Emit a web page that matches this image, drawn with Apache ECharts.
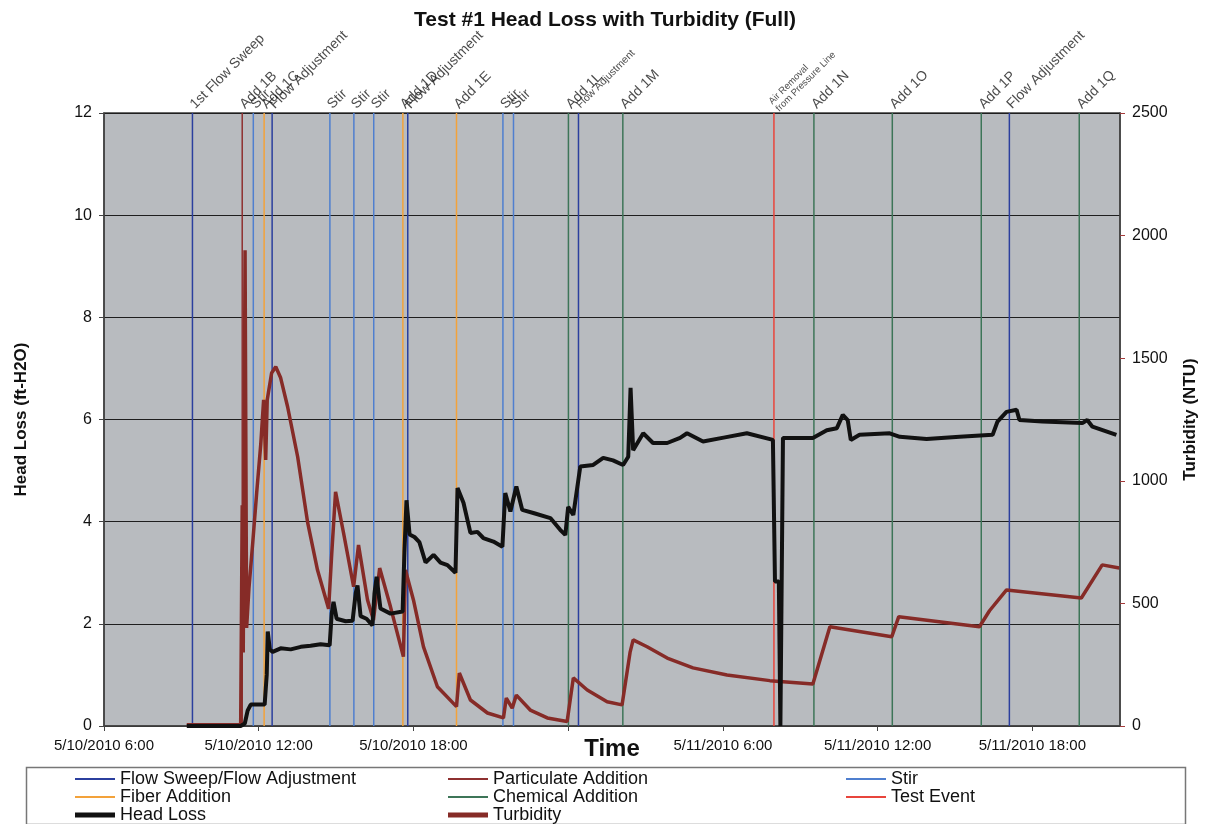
<!DOCTYPE html>
<html>
<head>
<meta charset="utf-8">
<script src="https://cdn.jsdelivr.net/npm/echarts@6/dist/echarts.min.js"></script>
<style>
html,body{margin:0;padding:0;background:#fff;}
#chart{width:1210px;height:824px;}
</style>
</head>
<body>
<div id="chart"></div>
<script>
// ---- Data (x values are hours since 5/10/2010 0:00) ----
const xTickLabels = ['5/10/2010 6:00', '5/10/2010 12:00', '5/10/2010 18:00', '', '5/11/2010 6:00', '5/11/2010 12:00', '5/11/2010 18:00'];

const eventHours = [9.43, 11.36, 11.79, 12.21, 12.52, 14.76, 15.69, 16.46, 17.59, 17.78, 19.67, 21.47, 21.88, 24.01, 24.40, 26.12, 31.98, 33.53, 36.57, 40.02, 41.11, 43.82];
const eventTypes = ['flow', 'particulate', 'stir', 'fiber', 'flow', 'stir', 'stir', 'stir', 'fiber', 'flow', 'fiber', 'stir', 'stir', 'chemical', 'flow', 'chemical', 'test', 'chemical', 'chemical', 'chemical', 'flow', 'chemical'];
const eventLabels = ['1st Flow Sweep', 'Add 1B', 'Stir', 'Add 1C', 'Flow Adjustment', 'Stir', 'Stir', 'Stir', 'Add 1D', 'Flow Adjustment', 'Add 1E', 'Stir', 'Stir', 'Add 1L', 'Flow Adjustment', 'Add 1M', 'Air Removal\nfrom Pressure Line', 'Add 1N', 'Add 1O', 'Add 1P', 'Flow Adjustment', 'Add 1Q'];

const headLoss = [
  [9.21,0],[11.30,0],[11.46,0.05],[11.57,0.3],[11.69,0.42],[12.23,0.42],[12.31,1.0],[12.35,1.85],[12.43,1.5],[12.54,1.45],
  [12.85,1.52],[13.24,1.5],[13.63,1.55],[14.01,1.57],[14.40,1.6],[14.75,1.58],[14.83,2.2],[14.90,2.43],[15.02,2.1],[15.37,2.05],
  [15.64,2.06],[15.76,2.6],[15.83,2.75],[15.95,2.15],[16.18,2.1],[16.41,1.97],[16.49,2.6],[16.57,2.92],[16.72,2.3],[17.11,2.2],
  [17.58,2.24],[17.65,3.4],[17.73,4.42],[17.85,3.75],[18.04,3.7],[18.23,3.6],[18.47,3.2],[18.78,3.35],[19.05,3.2],[19.32,3.15],
  [19.63,3.0],[19.71,4.66],[19.94,4.37],[20.21,3.78],[20.48,3.8],[20.71,3.68],[21.10,3.61],[21.45,3.51],[21.56,4.56],[21.76,4.2],
  [21.99,4.69],[22.22,4.23],[22.65,4.17],[23.31,4.07],[23.69,3.84],[23.89,3.74],[24.00,4.29],[24.20,4.13],[24.47,5.08],[24.97,5.11],
  [25.36,5.25],[25.74,5.2],[26.13,5.11],[26.33,5.27],[26.42,6.62],[26.52,5.4],[26.91,5.73],[27.29,5.54],[27.84,5.54],[28.34,5.64],
  [28.61,5.73],[29.23,5.57],[30.08,5.65],[30.93,5.73],[31.94,5.6],[32.02,2.83],[32.17,2.83],[32.23,0],[32.29,0],[32.33,5.64],
  [33.49,5.64],[34.03,5.79],[34.42,5.83],[34.65,6.09],[34.84,5.99],[34.96,5.6],[35.30,5.7],[36.47,5.73],[36.86,5.66],[37.90,5.62],
  [39.18,5.66],[40.46,5.7],[40.65,5.96],[41.00,6.15],[41.39,6.19],[41.50,5.99],[42.39,5.96],[43.94,5.93],[44.13,5.99],[44.33,5.86],
  [45.26,5.7]
];

const turbidity = [
  [9.21,5],[11.30,5],[11.36,900],[11.40,300],[11.47,1940],[11.53,400],[11.62,560],[11.77,750],[11.92,950],[12.08,1150],
  [12.19,1330],[12.27,1085],[12.33,1330],[12.50,1440],[12.66,1465],[12.85,1420],[13.12,1302],[13.51,1098],[13.90,828],[14.28,636],
  [14.71,478],[14.83,700],[14.98,955],[15.29,787],[15.68,568],[15.87,738],[16.22,514],[16.45,432],[16.69,644],[17.11,486],
  [17.61,283],[17.69,636],[18.00,514],[18.39,323],[18.93,160],[19.67,79],[19.78,216],[20.21,106],[20.87,53],[21.49,33],
  [21.60,114],[21.83,73],[21.99,126],[22.53,65],[23.19,33],[23.96,18],[24.20,196],[24.74,147],[25.51,99],[26.09,86],
  [26.40,300],[26.52,351],[27.06,323],[27.84,277],[28.84,237],[30.16,208],[31.82,185],[33.49,171],[34.15,405],[36.55,364],
  [36.82,446],[39.95,405],[40.34,470],[41.00,555],[43.90,522],[44.71,657],[45.37,644]
];

// ---- Styling / option building ----
const FONT = '"Liberation Sans", Arial, Helvetica, sans-serif';
const eventCats = [
  {key: 'flow', name: 'Flow Sweep/Flow Adjustment', color: '#2b3f9e'},
  {key: 'particulate', name: 'Particulate Addition', color: '#8e3030'},
  {key: 'stir', name: 'Stir', color: '#4f7fcf'},
  {key: 'fiber', name: 'Fiber Addition', color: '#f3a23a'},
  {key: 'chemical', name: 'Chemical Addition', color: '#3d7558'},
  {key: 'test', name: 'Test Event', color: '#e8453c'}
];

const eventSeries = eventCats.map(c => ({
  name: c.name,
  type: 'line',
  color: c.color,
  symbol: 'none',
  silent: true,
  z: 2,
  lineStyle: {width: 1.5, color: c.color},
  data: eventHours.flatMap((h, i) => eventTypes[i] === c.key ? [[h, 0], [h, 12], [h, '-']] : [])
}));

const smallFlow = 14; // index of the small "Flow Adjustment" label
const labelSeries = {
  name: 'eventLabels',
  type: 'scatter',
  symbolSize: 1,
  itemStyle: {color: 'transparent'},
  silent: true,
  clip: false,
  z: 10,
  data: eventHours.map((h, i) => {
    const item = {value: [h, 12]};
    if (i === smallFlow) item.label = {fontSize: 10.5};
    if (eventLabels[i].indexOf('\n') >= 0) item.label = {fontSize: 9.5, lineHeight: 10};
    return item;
  }),
  label: {
    show: true,
    position: 'top',
    distance: 6,
    rotate: 45,
    align: 'left',
    verticalAlign: 'middle',
    fontSize: 14,
    fontFamily: FONT,
    color: '#1a1a1a',
    formatter: p => eventLabels[p.dataIndex]
  }
};

const thin = 'path://M0,0L40,0L40,2L0,2Z';
const thick = 'path://M0,0L40,0L40,5L0,5Z';
const legendCommon = {
  orient: 'vertical',
  top: 770,
  itemWidth: 40,
  itemHeight: 10,
  itemGap: 0,
  padding: 0,
  selectedMode: false,
  symbolKeepAspect: true,
  textStyle: {fontSize: 18, lineHeight: 17, color: '#111', fontFamily: FONT}
};

const option = {
  backgroundColor: '#ffffff',
  animation: false,
  title: {
    text: 'Test #1 Head Loss with Turbidity (Full)',
    left: 'center',
    top: 5,
    textStyle: {fontSize: 21, fontWeight: 'bold', color: '#111', fontFamily: FONT}
  },
  grid: {
    left: 104, right: 90, top: 113, bottom: 98,
    show: true,
    backgroundColor: '#b8bbbf',
    borderColor: '#3a3a3a',
    borderWidth: 1.5
  },
  legend: [
    Object.assign({left: 75, data: [
      {name: 'Flow Sweep/Flow Adjustment', icon: thin},
      {name: 'Fiber Addition', icon: thin},
      {name: 'Head Loss', icon: thick}]}, legendCommon),
    Object.assign({left: 448, data: [
      {name: 'Particulate Addition', icon: thin},
      {name: 'Chemical Addition', icon: thin},
      {name: 'Turbidity', icon: thick}]}, legendCommon),
    Object.assign({left: 846, data: [
      {name: 'Stir', icon: thin},
      {name: 'Test Event', icon: thin}]}, legendCommon)
  ],
  graphic: [{
    type: 'rect',
    left: 24, top: 765,
    shape: {width: 1159, height: 57},
    style: {fill: 'none', stroke: '#777', lineWidth: 1.5},
    silent: true
  }],
  xAxis: {
    type: 'value',
    min: 6,
    max: 45.4,
    interval: 6,
    name: 'Time',
    nameLocation: 'middle',
    nameGap: 11,
    nameMoveOverlap: false,
    nameTextStyle: {fontSize: 24, fontWeight: 'bold', color: '#111', fontFamily: FONT, verticalAlign: 'top'},
    axisLine: {show: true, lineStyle: {color: '#444', width: 1.5}},
    axisTick: {show: true, length: 5, lineStyle: {color: '#444'}},
    splitLine: {show: false},
    axisLabel: {
      fontSize: 15, color: '#111', margin: 12, fontFamily: FONT,
      showMaxLabel: false,
      formatter: v => { const i = Math.round((v - 6) / 6); return xTickLabels[i] || ''; }
    }
  },
  yAxis: [{
    type: 'value',
    min: 0, max: 12, interval: 2,
    position: 'left',
    name: 'Head Loss (ft-H2O)',
    nameLocation: 'middle',
    nameGap: 74,
    nameTextStyle: {fontSize: 17, fontWeight: 'bold', color: '#111', fontFamily: FONT},
    axisLine: {show: true, lineStyle: {color: '#444', width: 1.5}},
    axisTick: {show: true, length: 5, lineStyle: {color: '#444'}},
    axisLabel: {fontSize: 16, color: '#111', margin: 12, fontFamily: FONT},
    splitLine: {show: true, lineStyle: {color: '#1e1e1e', width: 1}}
  }, {
    type: 'value',
    min: 0, max: 2500, interval: 500,
    position: 'right',
    name: 'Turbidity (NTU)',
    nameLocation: 'middle',
    nameGap: 62,
    nameTextStyle: {fontSize: 17, fontWeight: 'bold', color: '#111', fontFamily: FONT},
    axisLine: {show: true, lineStyle: {color: '#444', width: 1.5}},
    axisTick: {show: true, length: 5, lineStyle: {color: '#a33a3a'}},
    axisLabel: {fontSize: 16, color: '#111', margin: 12, fontFamily: FONT, formatter: v => String(v)},
    splitLine: {show: false}
  }],
  series: eventSeries.concat([
    {
      name: 'Turbidity', type: 'line', yAxisIndex: 1, symbol: 'none', z: 4,
      color: '#862b27',
      lineStyle: {width: 3.5, color: '#862b27'},
      data: turbidity
    },
    {
      name: 'Head Loss', type: 'line', yAxisIndex: 0, symbol: 'none', z: 5,
      color: '#111111',
      lineStyle: {width: 4, color: '#111111'},
      data: headLoss
    },
    labelSeries
  ])
};

const chart = echarts.init(document.getElementById('chart'), null, {renderer: 'canvas'});
chart.setOption(option);
</script>
</body>
</html>
